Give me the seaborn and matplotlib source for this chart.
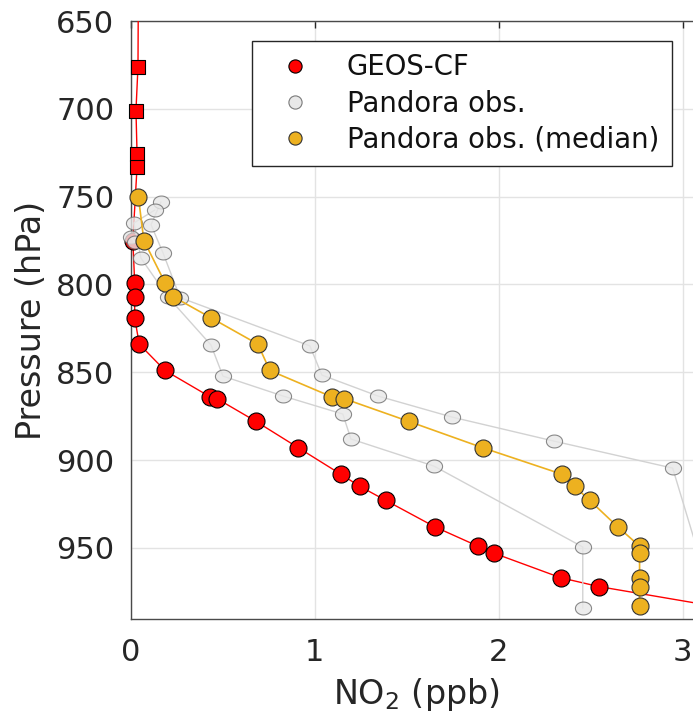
import numpy as np
import pandas as pd
import matplotlib
matplotlib.use("Agg")
import matplotlib.pyplot as plt
from matplotlib.lines import Line2D
from matplotlib.path import Path
import seaborn as sns

# ---- data: NO2 vertical profiles (ppb) against pressure (hPa) ----
geos_p = [630, 676, 701, 726, 733, 775, 799, 807, 819, 834, 849, 864, 865,
          878, 893, 908, 915, 923, 938, 949, 953, 967, 972, 983]
geos_no2 = [0.040, 0.038, 0.027, 0.033, 0.033, 0.010, 0.020, 0.020, 0.020,
            0.045, 0.185, 0.430, 0.467, 0.680, 0.910, 1.140, 1.245, 1.386,
            1.652, 1.886, 1.973, 2.337, 2.543, 3.160]
geos_square_top = 750  # model levels above this pressure use square markers

median_p = [750, 775, 799, 807, 819, 834, 849, 864, 865, 878, 893, 908, 915,
            923, 938, 949, 953, 967, 972, 983]
median_no2 = [0.040, 0.070, 0.185, 0.230, 0.435, 0.690, 0.755, 1.092, 1.158,
              1.511, 1.913, 2.342, 2.413, 2.495, 2.647, 2.766, 2.766, 2.766,
              2.766, 2.766]

obs1_p = [753, 766, 782, 807.5, 835, 851.6, 863.5, 875.5, 889.2, 904.6, 965]
obs1_no2 = [0.163, 0.109, 0.174, 0.267, 0.973, 1.038, 1.342, 1.745, 2.300,
            2.946, 3.120]
obs2_p = [757.6, 765, 785, 807, 834.5, 852.2, 863.5, 873.8, 888, 903.4,
          949.5, 984.3]
obs2_no2 = [0.130, 0.016, 0.054, 0.200, 0.435, 0.500, 0.826, 1.152, 1.196,
            1.647, 2.457, 2.457]
obs3_p = [773, 776]
obs3_no2 = [0.000, 0.020]

x_ticks = [0, 1, 2, 3]
y_ticks = [650, 700, 750, 800, 850, 900, 950]
x_range = (0, 3.1)
p_range = (650, 990.5)

# ---- styling ----
sns.set_style("white")
plt.rcParams["font.family"] = ["DejaVu Sans"]
plt.rcParams["mathtext.default"] = "regular"

RED = "#ff0000"
GOLD = "#EDB120"
GREY_FACE = "#e8e8e8"
GREY_LINE = "#d2d2d2"
AX_COL = "#262626"

fig = plt.figure(figsize=(6.93, 7.24), dpi=100)
W, H = 693, 724
ax = fig.add_axes([131 / W, (H - 619) / H, 570 / W, 598 / H])

geos = pd.DataFrame({"no2": geos_no2, "p": geos_p})
med = pd.DataFrame({"no2": median_no2, "p": median_p})
obs = pd.concat([
    pd.DataFrame({"no2": obs1_no2, "p": obs1_p, "profile": 1}),
    pd.DataFrame({"no2": obs2_no2, "p": obs2_p, "profile": 2}),
    pd.DataFrame({"no2": obs3_no2, "p": obs3_p, "profile": 3}),
], ignore_index=True)


def in_view(df):
    return df[(df.no2 >= x_range[0]) & (df.no2 <= x_range[1]) &
              (df.p >= p_range[0]) & (df.p <= p_range[1])]


# flat ellipse used for the individual observations
t = np.linspace(0, 2 * np.pi, 60)
ellipse = Path(np.column_stack([np.cos(t), 0.8 * np.sin(t)]), closed=True)

# model profile
sns.lineplot(data=geos, x="no2", y="p", sort=False, estimator=None,
             color=RED, lw=1.0, ax=ax, zorder=3)
gv = in_view(geos)
sns.scatterplot(data=gv[gv.p < geos_square_top], x="no2", y="p", marker="s",
                s=88, color=RED, edgecolor="black", linewidth=0.8, ax=ax,
                zorder=4, clip_on=False)
sns.scatterplot(data=gv[gv.p >= geos_square_top], x="no2", y="p", marker="o",
                s=150, color=RED, edgecolor="black", linewidth=0.8, ax=ax,
                zorder=4, clip_on=False)

# individual observed profiles
sns.lineplot(data=obs, x="no2", y="p", units="profile", sort=False,
             estimator=None, color=GREY_LINE, lw=1.0, ax=ax, zorder=5)
sns.scatterplot(data=in_view(obs), x="no2", y="p", marker=ellipse, s=135,
                color=GREY_FACE, edgecolor="#6e6e6e", linewidth=0.8,
                alpha=0.8, ax=ax, zorder=6, clip_on=False)

# median observed profile
sns.lineplot(data=med, x="no2", y="p", sort=False, estimator=None,
             color=GOLD, lw=1.2, ax=ax, zorder=7)
sns.scatterplot(data=in_view(med), x="no2", y="p", marker="o", s=150,
                color=GOLD, edgecolor="#333333", linewidth=0.8, ax=ax,
                zorder=8, clip_on=False)

ax.set_xlim(*x_range)
ax.set_ylim(p_range[1], p_range[0])
ax.set_xticks(x_ticks)
ax.set_yticks(y_ticks)
ax.grid(True, color="#e3e3e3", lw=1.0)
ax.set_axisbelow(True)
ax.tick_params(direction="in", length=5, width=1, top=True, right=False,
               labelsize=22, colors=AX_COL, pad=14)
ax.tick_params(axis="y", pad=12)
for side in ["left", "bottom", "top"]:
    ax.spines[side].set_color("#4a4a4a")
    ax.spines[side].set_linewidth(1.0)
ax.spines["right"].set_visible(False)

ax.set_xlabel("NO$_2$ (ppb)", fontsize=24, color=AX_COL, labelpad=6)
ax.set_ylabel("Pressure (hPa)", fontsize=24, color=AX_COL, labelpad=6)

handles = [
    Line2D([], [], ls="none", marker="o", ms=9.5, mfc=RED, mec="black", mew=0.8),
    Line2D([], [], ls="none", marker="o", ms=9.5, mfc=GREY_FACE, mec="#7a7a7a", mew=0.8),
    Line2D([], [], ls="none", marker="o", ms=9.5, mfc=GOLD, mec="#333333", mew=0.8),
]
labels = ["GEOS-CF", "Pandora obs.", "Pandora obs. (median)"]
leg = ax.legend(handles, labels, loc="upper left",
                bbox_to_anchor=(252 / W, 1 - 41 / H),
                bbox_transform=fig.transFigure, borderaxespad=0,
                fontsize=19.8, frameon=True, fancybox=False,
                handlelength=2.2, handletextpad=0.8, borderpad=0.45,
                labelspacing=0.3)
for txt in leg.get_texts():
    txt.set_color("#111111")
leg.get_frame().set_edgecolor("#262626")
leg.get_frame().set_linewidth(1.0)
leg.get_frame().set_alpha(1.0)
leg.set_zorder(20)

fig.savefig("out.png", dpi=100)
